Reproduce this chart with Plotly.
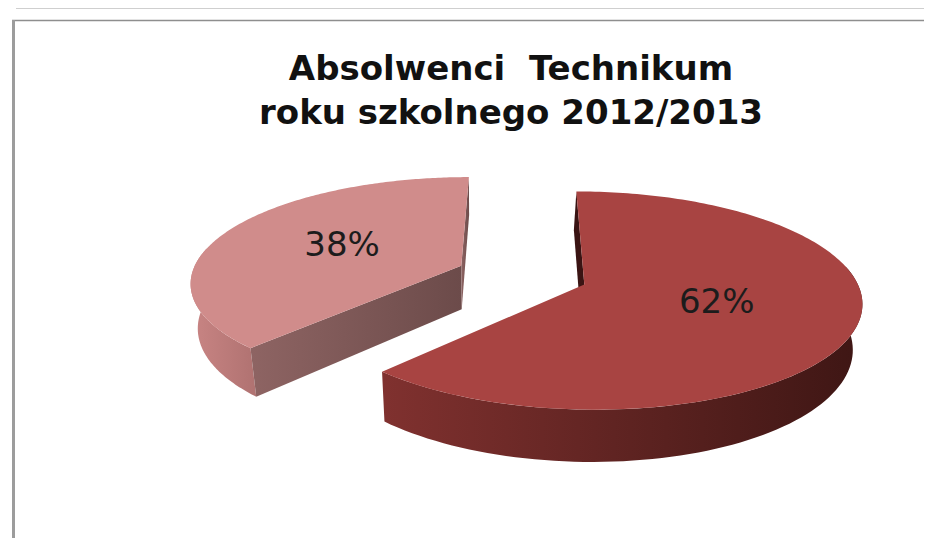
import numpy as np
import plotly.graph_objects as go

# ---- data ----
categories = ["Kategoria 1", "Kategoria 2"]
shares = [62, 38]
labels = ["62%", "38%"]
title_lines = ["Absolwenci&nbsp; Technikum", "roku szkolnego 2012/2013"]

# ---- style ----
top_colors = ["#A84442", "#D08C8B"]
side_colors = [("#80312F", "#3E1614"), ("#C98584", "#B07271")]
cut_colors = [("#3A1413", "#3A1413"), ("#8E6463", "#6C4B4A")]

# geometry of the 3-D pie (pixel space)
CX, CY = 514, 267
A, B = 270, 104
PERSP = 0.145
PULL = 0.245
DEPTH = 44
VX, SHRINK = 470, 0.975
LABEL_R = 0.5


def proj(u, v, bottom=False):
    u = np.asarray(u, dtype=float)
    v = np.asarray(v, dtype=float)
    w = 1.0 / (1.0 + PERSP * v)
    sx = CX + A * u * w
    sy = CY - B * v * w
    if bottom:
        sx = VX + (sx - VX) * SHRINK
        sy = sy + DEPTH * w
    return sx, sy


fig = go.Figure()

total = float(sum(shares))
starts = np.concatenate([[0.0], np.cumsum(shares)[:-1]]) / total * 360.0
ends = np.cumsum(shares) / total * 360.0

slices = []
for i in range(len(shares)):
    t0, t1 = starts[i], ends[i]
    mid = np.radians((t0 + t1) / 2)
    cu, cv = PULL * np.sin(mid), PULL * np.cos(mid)
    slices.append((i, t0, t1, cu, cv, mid))

order = sorted(slices, key=lambda s: -s[4])


def poly(xs, ys, color=None, grad=None):
    kw = dict(x=list(xs), y=list(ys), mode="none", fill="toself",
              hoverinfo="skip", showlegend=False)
    if grad is not None:
        kw["fillgradient"] = dict(type="horizontal",
                                  colorscale=[[0, grad[0]], [1, grad[1]]])
    else:
        kw["fillcolor"] = color
    fig.add_trace(go.Scatter(**kw))


for (i, t0, t1, cu, cv, mid) in order:
    lo = max(t0, 80.0)
    hi = min(t1, 280.0)
    if hi > lo:
        th = np.radians(np.linspace(lo, hi, 80))
        u = cu + np.sin(th)
        v = cv + np.cos(th)
        xt, yt = proj(u, v)
        xb, yb = proj(u, v, bottom=True)
        poly(np.concatenate([xt, xb[::-1]]), np.concatenate([yt, yb[::-1]]),
             grad=side_colors[i])
    for t, sign in ((t0, -1), (t1, 1)):
        s = np.sin(np.radians(t))
        visible = (s <= 1e-9) if sign == -1 else (s >= -1e-9)
        if not visible:
            continue
        ru, rv = cu + np.sin(np.radians(t)), cv + np.cos(np.radians(t))
        ct = proj(cu, cv)
        rt = proj(ru, rv)
        rb = proj(ru, rv, bottom=True)
        cb = proj(cu, cv, bottom=True)
        poly([ct[0], rt[0], rb[0], cb[0]], [ct[1], rt[1], rb[1], cb[1]],
             grad=cut_colors[i])
    th = np.radians(np.linspace(t0, t1, 200))
    u = np.concatenate([[cu], cu + np.sin(th), [cu]])
    v = np.concatenate([[cv], cv + np.cos(th), [cv]])
    xt, yt = proj(u, v)
    poly(xt, yt, color=top_colors[i])

lx, ly = [], []
for (i, t0, t1, cu, cv, mid) in slices:
    px, py = proj(cu + LABEL_R * np.sin(mid), cv + LABEL_R * np.cos(mid))
    lx.append(float(px))
    ly.append(float(py))
fig.add_trace(go.Scatter(x=lx, y=ly, mode="text", text=labels,
                         textposition="middle center",
                         textfont=dict(family="DejaVu Sans", size=34, color="#1c1c1c"),
                         hoverinfo="skip", showlegend=False))

fig.add_annotation(x=503, y=82, xref="x", yref="y", showarrow=False,
                   text="<br>".join(title_lines), align="center",
                   yanchor="middle", xanchor="center",
                   font=dict(family="DejaVu Sans", size=34, color="#111111",
                             weight="bold"))

fig.add_shape(type="line", xref="x", yref="y", x0=8, x1=932, y0=0.5, y1=0.5,
              line=dict(color="#cfcfcf", width=1))
fig.add_shape(type="line", xref="x", yref="y", x0=4, x1=932, y0=12.5, y1=12.5,
              line=dict(color="#8e8e8e", width=1.5))
fig.add_shape(type="line", xref="x", yref="y", x0=5.5, x1=5.5, y0=12, y1=538,
              line=dict(color="#9c9c9c", width=3))

fig.update_layout(
    width=932, height=538,
    margin=dict(l=0, r=0, t=0, b=0),
    paper_bgcolor="white", plot_bgcolor="white",
    xaxis=dict(range=[0, 932], visible=False, fixedrange=True),
    yaxis=dict(range=[538, 0], visible=False, fixedrange=True),
    hovermode=False,
)

fig.write_html("out.html")
